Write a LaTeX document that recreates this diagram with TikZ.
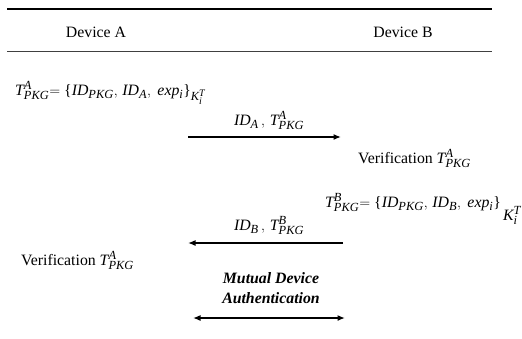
\documentclass[tikz,border=0pt]{standalone}
\usepackage{fontspec}
\setmainfont{Liberation Serif}
\usetikzlibrary{arrows.meta}
\DeclareMathSizes{15.8}{15.8}{12.4}{10}
\newcommand{\mi}[1]{\mathit{#1}}
\newcommand{\lb}{\mbox{\{}}
\newcommand{\rb}{\mbox{\}}}
\begin{document}
\begin{tikzpicture}[x=1pt,y=-1pt,
  txt/.style={inner sep=0pt,font=\fontsize{15.8}{19}\selectfont},
  hdr/.style={txt,anchor=base},
  lbl/.style={txt,anchor=base west},
  bi/.style={hdr,font=\fontsize{15.8}{19}\selectfont\bfseries\itshape},
  msg/.style={line width=1.4pt,-{Latex[length=7.5pt,width=6pt]}},
  both/.style={line width=1.4pt,{Latex[length=7.5pt,width=6pt]}-{Latex[length=7.5pt,width=6pt]}}]
\useasboundingbox (0,0) rectangle (522,338);
% rules
\coordinate (r1a) at (7,9);   \coordinate (r1b) at (492,9);
\coordinate (r2a) at (7,51);  \coordinate (r2b) at (492,51);
\draw[line width=1.6pt] (r1a) -- (r1b);
\draw[line width=0.9pt,black!75] (r2a) -- (r2b);
% headers
\node[hdr] (devA) at (96,37) {Device A};
\node[hdr] (devB) at (403,37) {Device B};
% token A
\node[lbl] (tokA) at (15,95) {$\mi{T^{A}_{PKG}}\mathord{=}\ \lb\mi{ID_{PKG}},\,\mi{ID_{A}},\ \mi{exp_{i}}\rb_{\mi{K^{T}_{i}}}$};
% message 1
\node[hdr] (m1) at (269,125) {$\mi{ID_{A}}\,,\,\mi{T^{A}_{PKG}}$};
\coordinate (a1s) at (188,137); \coordinate (a1e) at (341,137);
\draw[msg] (a1s) -- (a1e);
% verification at B
\node[lbl] (verB) at (358,163) {Verification $\mi{T^{A}_{PKG}}$};
% token B
\node[lbl] (tokB) at (325,207) {$\mi{T^{B}_{PKG}}\mathord{=}\ \lb\mi{ID_{PKG}},\,\mi{ID_{B}},\ \mi{exp_{i}}\rb$};
\node[lbl] (kB) at (503,220) {$\mi{K^{T}_{i}}$};
% message 2
\node[hdr] (m2) at (269,230) {$\mi{ID_{B}}\,,\,\mi{T^{B}_{PKG}}$};
\coordinate (a2s) at (343,243); \coordinate (a2e) at (188,243);
\draw[msg] (a2s) -- (a2e);
% verification at A
\node[lbl] (verA) at (21,265) {Verification $\mi{T^{A}_{PKG}}$};
% mutual authentication
\node[bi] (mut1) at (271,283) {Mutual Device};
\node[bi] (mut2) at (271,303) {Authentication};
\coordinate (a3s) at (193,318); \coordinate (a3e) at (345,318);
\draw[both] (a3s) -- (a3e);
\end{tikzpicture}
\end{document}
